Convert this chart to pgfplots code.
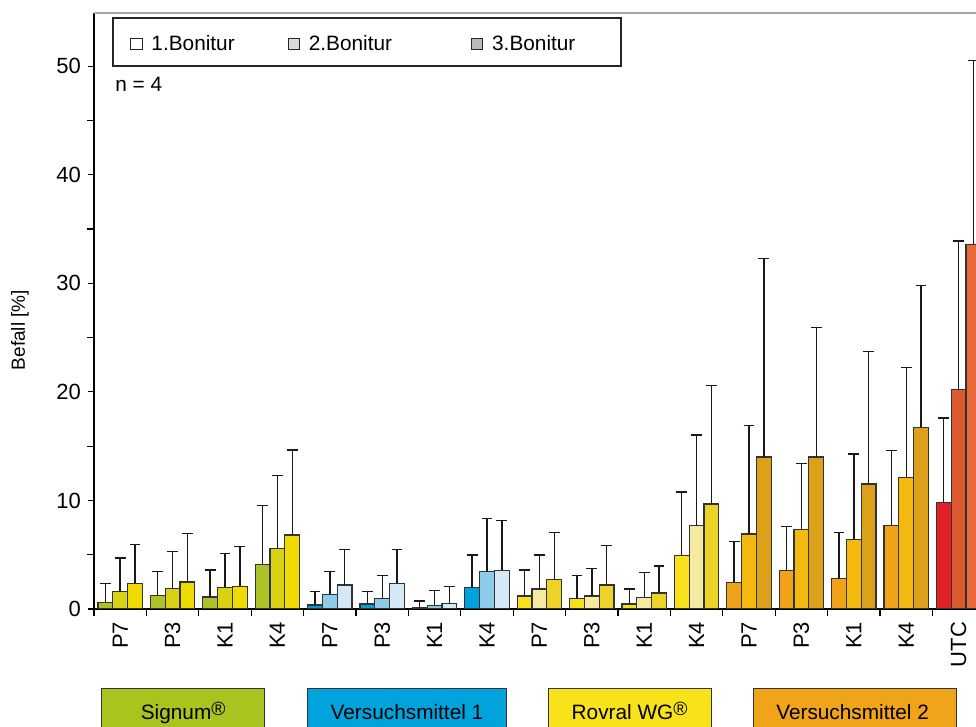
\documentclass[border=0pt]{standalone}
\usepackage{fontspec}
\setmainfont{Liberation Sans}
\usepackage{pgfplots}
\usepackage{pgfplotstable}
\pgfplotsset{compat=1.18}

\definecolor{sgA}{HTML}{ADC227}
\definecolor{sgB}{HTML}{D9D214}
\definecolor{sgC}{HTML}{EFDB00}
\definecolor{vaA}{HTML}{00A0DC}
\definecolor{vaB}{HTML}{8DCBEA}
\definecolor{vaC}{HTML}{D5E8F5}
\definecolor{rvA}{HTML}{F8E11C}
\definecolor{rvB}{HTML}{F5EBA0}
\definecolor{rvC}{HTML}{EDD227}
\definecolor{vbA}{HTML}{F0A318}
\definecolor{vbB}{HTML}{F3B90E}
\definecolor{vbC}{HTML}{DCA01A}
\definecolor{utA}{HTML}{DF2027}
\definecolor{utB}{HTML}{DD5A30}
\definecolor{utC}{HTML}{E8683A}
\definecolor{boxSg}{HTML}{AAC41F}
\definecolor{boxVa}{HTML}{00A3DC}
\definecolor{boxRv}{HTML}{F8E31A}
\definecolor{boxVb}{HTML}{F0A41A}

% x  bar1 top1  bar2 top2  bar3 top3   (top = upper end of error bar)
\pgfplotstableread{
x b1 t1 b2 t2 b3 t3
0 0.62 2.37 1.60 4.70 2.37 5.96
1 1.23 3.44 1.87 5.31 2.49 6.94
2 1.10 3.59 2.00 5.10 2.09 5.74
3 4.11 9.51 5.59 12.28 6.81 14.64
}\signum
\pgfplotstableread{
x b1 t1 b2 t2 b3 t3
4 0.37 1.63 1.35 3.44 2.21 5.46
5 0.46 1.63 0.98 3.07 2.37 5.46
6 0.09 0.74 0.34 1.69 0.49 2.09
7 1.96 4.97 3.44 8.32 3.56 8.17
}\vma
\pgfplotstableread{
x b1 t1 b2 t2 b3 t3
8 1.20 3.59 1.84 4.97 2.70 7.06
9 0.95 3.07 1.20 3.71 2.21 5.83
10 0.46 1.84 1.07 3.35 1.47 3.96
11 4.94 10.77 7.67 16.02 9.67 20.60
}\rovral
\pgfplotstableread{
x b1 t1 b2 t2 b3 t3
12 2.46 6.20 6.91 16.88 14.00 32.26
13 3.56 7.58 7.30 13.38 14.00 25.94
14 2.79 7.06 6.41 14.27 11.51 23.70
15 7.67 14.61 12.13 22.22 16.73 29.80
}\vmb
\pgfplotstableread{
x b1 t1 b2 t2 b3 t3
16 9.79 17.59 20.20 33.89 33.61 50.50
}\utc

\newcommand{\fs}{\fontsize{10.4}{12.5}\selectfont}
\newcommand{\reg}{\raisebox{2pt}{\fontsize{9.6}{10}\selectfont ®}}

\begin{document}
\begin{tikzpicture}
\begin{axis}[
  scale only axis, width=441pt, height=298pt,
  xmin=-0.5, xmax=16.332, ymin=0, ymax=54.9,
  axis x line*=bottom, axis y line*=left,
  axis line style={line width=0.6pt, black},
  ybar, bar width=0.283,
  xtick={0,...,16},
  xticklabels={P7,P3,K1,K4,P7,P3,K1,K4,P7,P3,K1,K4,P7,P3,K1,K4,UTC},
  minor xtick={-0.5,0.5,...,15.5},
  major x tick style={draw=none},
  ytick={0,10,...,50}, minor ytick={5,15,...,45},
  tick align=outside, major tick length=3pt, minor tick length=3.5pt,
  tick style={black, line width=0.6pt},
  xticklabel style={rotate=90, anchor=east, font=\fontsize{11}{13}\selectfont},
  yticklabel style={font=\fontsize{11}{13}\selectfont},
  /pgf/number format/assume math mode=true,
  ylabel={Befall [\%]},
  ylabel style={font=\fontsize{9.5}{11}\selectfont, at={(axis description cs:-0.0839,0.468)}, anchor=center},
  every axis plot/.append style={draw=black!80, line width=0.6pt},
  error bars/y dir=plus, error bars/y explicit,
  error bars/error bar style={line width=0.7pt, black!90},
  error bars/error mark options={rotate=90, line width=0.7pt, black!90, mark size=2.7pt},
  legend style={draw=none, fill=none, inner sep=0pt, at={(rel axis cs:0.0408,0.948)}, anchor=west,
    font=\fs, /tikz/every even column/.append style={column sep=24.5pt}},
  legend columns=3,
]
\addlegendimage{legend image code/.code={\draw[fill=white, draw=black!85, line width=0.5pt] (0pt,-2.8pt) rectangle (5.6pt,2.8pt); \path (8pt,0pt);}}
\addlegendimage{legend image code/.code={\draw[fill=black!14, draw=black!85, line width=0.5pt] (0pt,-2.8pt) rectangle (5.6pt,2.8pt); \path (8pt,0pt);}}
\addlegendimage{legend image code/.code={\draw[fill=black!27, draw=black!85, line width=0.5pt] (0pt,-2.8pt) rectangle (5.6pt,2.8pt); \path (8pt,0pt);}}
\legend{1.Bonitur,2.Bonitur\hspace*{13pt},3.Bonitur}

% Signum
\addplot[fill=sgA, bar shift=-0.283] table[x=x, y=b1, y error plus expr=\thisrow{t1}-\thisrow{b1}] {\signum};
\addplot[fill=sgB, bar shift=0] table[x=x, y=b2, y error plus expr=\thisrow{t2}-\thisrow{b2}] {\signum};
\addplot[fill=sgC, bar shift=0.283] table[x=x, y=b3, y error plus expr=\thisrow{t3}-\thisrow{b3}] {\signum};
% Versuchsmittel 1
\addplot[fill=vaA, bar shift=-0.283] table[x=x, y=b1, y error plus expr=\thisrow{t1}-\thisrow{b1}] {\vma};
\addplot[fill=vaB, bar shift=0] table[x=x, y=b2, y error plus expr=\thisrow{t2}-\thisrow{b2}] {\vma};
\addplot[fill=vaC, bar shift=0.283] table[x=x, y=b3, y error plus expr=\thisrow{t3}-\thisrow{b3}] {\vma};
% Rovral WG
\addplot[fill=rvA, bar shift=-0.283] table[x=x, y=b1, y error plus expr=\thisrow{t1}-\thisrow{b1}] {\rovral};
\addplot[fill=rvB, bar shift=0] table[x=x, y=b2, y error plus expr=\thisrow{t2}-\thisrow{b2}] {\rovral};
\addplot[fill=rvC, bar shift=0.283] table[x=x, y=b3, y error plus expr=\thisrow{t3}-\thisrow{b3}] {\rovral};
% Versuchsmittel 2
\addplot[fill=vbA, bar shift=-0.283] table[x=x, y=b1, y error plus expr=\thisrow{t1}-\thisrow{b1}] {\vmb};
\addplot[fill=vbB, bar shift=0] table[x=x, y=b2, y error plus expr=\thisrow{t2}-\thisrow{b2}] {\vmb};
\addplot[fill=vbC, bar shift=0.283] table[x=x, y=b3, y error plus expr=\thisrow{t3}-\thisrow{b3}] {\vmb};
% UTC
\addplot[fill=utA, bar shift=-0.283] table[x=x, y=b1, y error plus expr=\thisrow{t1}-\thisrow{b1}] {\utc};
\addplot[fill=utB, bar shift=0] table[x=x, y=b2, y error plus expr=\thisrow{t2}-\thisrow{b2}] {\utc};
\addplot[fill=utC, bar shift=0.283] table[x=x, y=b3, y error plus expr=\thisrow{t3}-\thisrow{b3}] {\utc};

\draw[line width=0.6pt, black!85] (rel axis cs:0.0215,0.911) rectangle (rel axis cs:0.5975,0.9916);
\node[anchor=west, font=\fs, inner sep=0pt] at (rel axis cs:0.0238,0.881) {n = 4};

\coordinate (O) at (rel axis cs:0,0);
\coordinate (TL) at (rel axis cs:0,1);
\coordinate (T) at (rel axis cs:1,1);
\end{axis}

\draw[black!35, line width=0.7pt] (TL) -- (T);

% bottom boxes
\foreach \xa/\xb/\col in {3.65/85.5/boxSg, 107/206/boxVa, 227.15/308.5/boxRv, 329.85/431.35/boxVb}{
  \draw[fill=\col, draw=black!80, line width=0.5pt]
    ([shift={(\xa pt,-75pt)}]O) -- ([shift={(\xa pt,-40pt)}]O) -- ([shift={(\xb pt,-40pt)}]O) -- ([shift={(\xb pt,-75pt)}]O);
}
\node[anchor=base, font=\fs] at ([shift={(44.6pt,-55.5pt)}]O) {Signum\reg};
\node[anchor=base, font=\fs] at ([shift={(156.5pt,-55.5pt)}]O) {Versuchsmittel 1};
\node[anchor=base, font=\fs] at ([shift={(267.8pt,-55.5pt)}]O) {Rovral WG\reg};
\node[anchor=base, font=\fs] at ([shift={(379.3pt,-55.5pt)}]O) {Versuchsmittel 2};

\pgfresetboundingbox
\path[use as bounding box] ([shift={(-47pt,-59pt)}]O) rectangle ([shift={(0pt,6.5pt)}]T);
\end{tikzpicture}
\end{document}
